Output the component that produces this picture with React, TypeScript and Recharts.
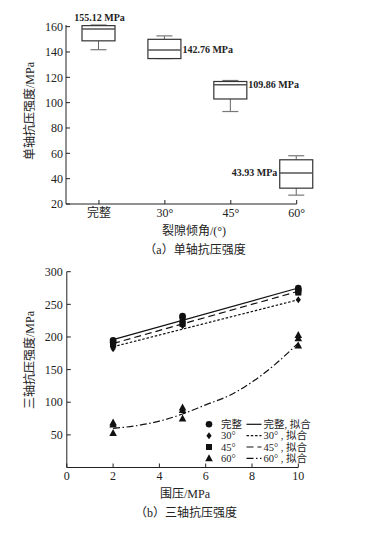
import { Bar, ComposedChart, Legend, Line, Scatter, XAxis, YAxis } from "recharts";

const FONT = "'Liberation Serif', 'Noto Sans CJK SC', serif";
const INK = "#222";

// (a) uniaxial compressive strength, box plots per fissure angle
const angles = ["完整", "30°", "45°", "60°"];
const ucsMin = [141.8, 134.8, 93.0, 27.0];
const ucsQ1 = [148.8, 134.8, 102.9, 32.5];
const ucsMedian = [158.2, 141.6, 114.1, 44.5];
const ucsQ3 = [160.8, 150.0, 116.7, 54.9];
const ucsMax = [161.3, 152.7, 117.5, 58.1];
const ucsMean = [155.12, 142.76, 109.86, 43.93];
const ucsTicks = [20, 40, 60, 80, 100, 120, 140, 160];

// (b) triaxial compressive strength vs confining pressure
const confining = [2, 5, 10];
const intactVals = [[195, 192], [232, 230], [275, 272]];
const deg30Vals = [[182, 185], [217], [257]];
const deg45Vals = [[188, 190], [222, 220], [270, 268]];
const deg60Vals = [[69, 66, 53], [92, 88, 75], [203, 198, 187]];

const fitX = [2, 10];
const intactFit = [196, 275];
const deg30Fit = [185, 257];
const deg45Fit = [190, 270];
const deg60FitX = [2, 3, 4, 5, 6, 7, 8, 9, 10];
const deg60Fit = [60, 64, 71, 82, 96, 110, 131, 158, 191];

const tcsXTicks = [0, 2, 4, 6, 8, 10];
const tcsYTicks = [50, 100, 150, 200, 250, 300];

const boxRows = angles.map((name, i) => ({
  pos: i + 1,
  name,
  min: ucsMin[i],
  q1: ucsQ1[i],
  median: ucsMedian[i],
  q3: ucsQ3[i],
  max: ucsMax[i],
  mean: ucsMean[i],
}));

const toPoints = (vals: number[][]) =>
  vals.flatMap((group, i) => group.map((y) => ({ x: confining[i], y })));
const toLine = (xs: number[], ys: number[]) => xs.map((x, i) => ({ x, y: ys[i] }));

const labelSide = ["top", "right", "right", "left"];

function BoxShape(props: any) {
  const { x, y, width, height, payload, index } = props;
  const top = Math.min(y, y + height);
  const h = Math.abs(height);
  const k = h / (payload.max - payload.min);
  const py = (v: number) => top + (payload.max - v) * k;
  const cx = x + width / 2;
  const side = labelSide[index];
  const text = `${payload.mean.toFixed(2)} MPa`;
  const textStyle = { fontFamily: FONT, fontSize: 10, fontWeight: 700, fill: INK };
  return (
    <g>
      <line x1={cx} x2={cx} y1={py(payload.max)} y2={py(payload.q3)} stroke="#666" strokeWidth={1} />
      <line x1={cx} x2={cx} y1={py(payload.q1)} y2={py(payload.min)} stroke="#666" strokeWidth={1} />
      <line x1={cx - 8} x2={cx + 8} y1={py(payload.max)} y2={py(payload.max)} stroke="#777" strokeWidth={1.2} />
      <line x1={cx - 8} x2={cx + 8} y1={py(payload.min)} y2={py(payload.min)} stroke="#777" strokeWidth={1.2} />
      <rect
        x={x}
        y={py(payload.q3)}
        width={width}
        height={py(payload.q1) - py(payload.q3)}
        fill="#fff"
        stroke="#333"
        strokeWidth={1.2}
      />
      <line x1={x} x2={x + width} y1={py(payload.median)} y2={py(payload.median)} stroke="#555" strokeWidth={1.6} />
      {side === "top" && (
        <text x={cx + 1} y={py(payload.max) - 4.5} textAnchor="middle" style={textStyle}>
          {text}
        </text>
      )}
      {side === "right" && (
        <text x={x + width + 1.5} y={py(payload.median) + 3.5} textAnchor="start" style={textStyle}>
          {text}
        </text>
      )}
      {side === "left" && (
        <text x={x - 2.5} y={py(payload.median) + 3.5} textAnchor="end" style={textStyle}>
          {text}
        </text>
      )}
    </g>
  );
}

function Marker({ cx, cy, kind }: { cx: number; cy: number; kind: string }) {
  if (kind === "circle") return <circle cx={cx} cy={cy} r={3.3} fill="#111" />;
  if (kind === "diamond")
    return <path d={`M${cx},${cy - 3.5}L${cx + 2.6},${cy}L${cx},${cy + 3.5}L${cx - 2.6},${cy}Z`} fill="#111" />;
  if (kind === "square") return <rect x={cx - 3} y={cy - 3} width={6} height={6} fill="#111" />;
  return <path d={`M${cx},${cy - 4}L${cx + 3.8},${cy + 3}L${cx - 3.8},${cy + 3}Z`} fill="#111" />;
}

const seriesStyles = [
  { name: "完整", kind: "circle", dash: undefined },
  { name: "30°", kind: "diamond", dash: "2.5 1.8" },
  { name: "45°", kind: "square", dash: "7 4" },
  { name: "60°", kind: "triangle", dash: "7 2.5 1.5 2.5" },
];
const fitNames = ["完整, 拟合", "30° , 拟合", "45° , 拟合", "60° , 拟合"];

function FitLegend() {
  return (
    <svg width={130} height={50} style={{ display: "block" }}>
      {seriesStyles.map((s, i) => {
        const cy = 6.3 + i * 11.35;
        return (
          <g key={s.name}>
            <Marker cx={9} cy={cy} kind={s.kind} />
            <text x={21} y={cy + 3.6} style={{ fontFamily: FONT, fontSize: 10.5, fill: INK }}>
              {s.name}
            </text>
            <line x1={46.5} x2={61.5} y1={cy} y2={cy} stroke="#111" strokeWidth={1.2} strokeDasharray={s.dash} />
            <text x={63.5} y={cy + 3.6} style={{ fontFamily: FONT, fontSize: 10.5, fill: INK }}>
              {fitNames[i]}
            </text>
          </g>
        );
      })}
    </svg>
  );
}

const tickStyle = { fontFamily: FONT, fontSize: 12, fill: INK };
const titleStyle: React.CSSProperties = {
  position: "absolute",
  fontFamily: FONT,
  fontSize: 12,
  lineHeight: 1,
  color: INK,
  whiteSpace: "nowrap",
  transform: "translate(-50%, -50%)",
};

export default function App() {
  const pointSets = [intactVals, deg30Vals, deg45Vals, deg60Vals].map(toPoints);
  const fitSets = [
    toLine(fitX, intactFit),
    toLine(fitX, deg30Fit),
    toLine(fitX, deg45Fit),
    toLine(deg60FitX, deg60Fit),
  ];

  return (
    <div style={{ position: "absolute", left: 0, top: 0, width: 382, height: 533, background: "#fff" }}>
      <div style={{ position: "absolute", left: 0, top: 0 }}>
        <ComposedChart width={382} height={250} data={boxRows} margin={{ top: 25, right: 85.3, left: 26, bottom: 16 }}>
          <XAxis
            type="number"
            dataKey="pos"
            domain={[0.5, 4]}
            ticks={[1, 2, 3, 4]}
            tickFormatter={(v) => angles[Number(v) - 1]}
            height={30}
            tickSize={-4}
            tickMargin={8.5}
            stroke={INK}
            tick={tickStyle}
            allowDecimals={false}
          />
          <YAxis
            domain={[20, 160]}
            ticks={ucsTicks}
            width={40}
            tickSize={-4}
            tickMargin={7}
            stroke={INK}
            tick={tickStyle}
          />
          <Bar
            dataKey={(d: any) => [d.min, d.max]}
            barSize={33}
            shape={(p: any) => <BoxShape {...p} />}
            isAnimationActive={false}
          />
        </ComposedChart>
      </div>

      <div style={{ position: "absolute", left: 0, top: 250 }}>
        <ComposedChart width={382} height={283} margin={{ top: 21.7, right: 83.7, left: 26.8, bottom: 35.5 }}>
          <XAxis
            type="number"
            dataKey="x"
            domain={[0, 10]}
            ticks={tcsXTicks}
            height={30}
            tickSize={-4}
            tickMargin={7.5}
            stroke={INK}
            tick={tickStyle}
          />
          <YAxis
            type="number"
            dataKey="y"
            domain={[0, 300]}
            ticks={tcsYTicks}
            width={40}
            tickSize={-4}
            tickMargin={8}
            stroke={INK}
            tick={tickStyle}
          />
          {fitSets.map((data, i) => (
            <Line
              key={`fit-${i}`}
              data={data}
              dataKey="y"
              type="monotone"
              stroke="#111"
              strokeWidth={1.2}
              strokeDasharray={seriesStyles[i].dash}
              dot={false}
              activeDot={false}
              isAnimationActive={false}
            />
          ))}
          {pointSets.map((data, i) => (
            <Scatter
              key={`pts-${i}`}
              data={data}
              dataKey="y"
              shape={(p: any) => <Marker cx={p.cx} cy={p.cy} kind={seriesStyles[i].kind} />}
              isAnimationActive={false}
            />
          ))}
          <Legend
            layout="horizontal"
            verticalAlign="middle"
            align="center"
            content={() => <FitLegend />}
            wrapperStyle={{ left: 200, top: 168, width: 130, height: 50 }}
          />
        </ComposedChart>
      </div>

      <div style={{ ...titleStyle, left: 30, top: 111, transform: "translate(-50%, -50%) rotate(-90deg)" }}>
        单轴抗压强度/MPa
      </div>
      <div style={{ ...titleStyle, left: 194, top: 231 }}>裂隙倾角/(°)</div>
      <div style={{ ...titleStyle, left: 195, top: 249.5 }}>（a）单轴抗压强度</div>

      <div style={{ ...titleStyle, left: 30, top: 360, transform: "translate(-50%, -50%) rotate(-90deg)" }}>
        三轴抗压强度/MPa
      </div>
      <div style={{ ...titleStyle, left: 185, top: 494 }}>围压/MPa</div>
      <div style={{ ...titleStyle, left: 186, top: 513 }}>（b）三轴抗压强度</div>
    </div>
  );
}
